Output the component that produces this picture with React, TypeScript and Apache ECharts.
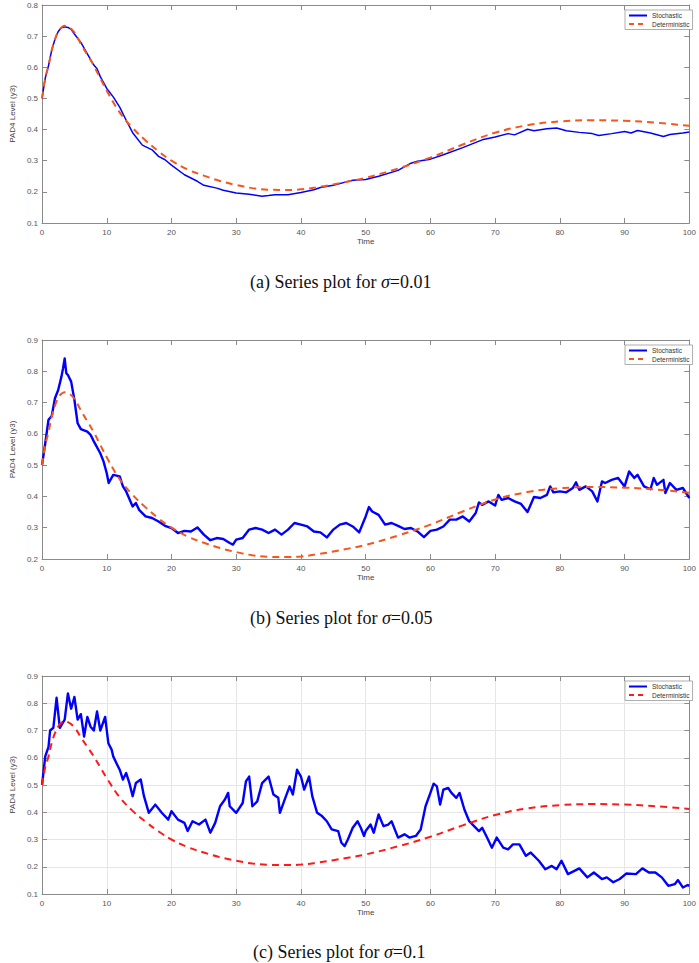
import React, { useEffect, useRef } from "react";
import * as echarts from "echarts";

// Deterministic solution (same in all three panels): [time, level]
const deterministic: number[][] = [
  [0, 0.5], [0.5, 0.565], [1, 0.605], [1.5, 0.655], [2, 0.69], [2.5, 0.715], [3, 0.728], [3.5, 0.733],
  [4, 0.731], [5, 0.712], [6, 0.675], [7, 0.64], [8, 0.605], [9, 0.565], [10, 0.525], [12, 0.455],
  [14, 0.405], [16, 0.365], [18, 0.33], [20, 0.3], [22.5, 0.272], [25, 0.252], [27.5, 0.235],
  [30, 0.222], [32.5, 0.212], [35, 0.207], [37.5, 0.206], [40, 0.208], [42.5, 0.215], [45, 0.224],
  [47.5, 0.234], [50, 0.245], [55, 0.275], [60, 0.31], [65, 0.352], [70, 0.39], [75, 0.414],
  [80, 0.426], [85, 0.43], [90, 0.428], [95, 0.422], [100, 0.412],
];

// Stochastic path, sigma = 0.01
const stochasticA: number[][] = [
  [0, 0.5], [0.5, 0.565], [1, 0.605], [1.5, 0.655], [2, 0.69], [2.5, 0.715], [3, 0.727], [3.5, 0.73],
  [4, 0.728], [4.5, 0.722], [5, 0.707], [6, 0.68], [7, 0.643], [8, 0.607], [8.5, 0.595], [9, 0.57],
  [10, 0.532], [11, 0.505], [12, 0.472], [13, 0.43], [14, 0.39], [15.5, 0.35], [17, 0.335], [18, 0.314],
  [19, 0.303], [20, 0.286], [22, 0.255], [24, 0.234], [25, 0.221], [27, 0.212], [28, 0.205], [30, 0.196],
  [32, 0.192], [34, 0.186], [35, 0.188], [36, 0.191], [38, 0.191], [40, 0.198], [42, 0.207], [43, 0.214],
  [45, 0.221], [47, 0.232], [48, 0.237], [50, 0.24], [52, 0.25], [55, 0.269], [57, 0.292], [58, 0.298],
  [60, 0.305], [62, 0.319], [65, 0.342], [68, 0.367], [70, 0.376], [72, 0.387], [73, 0.383], [75, 0.401],
  [76, 0.396], [78, 0.403], [79.5, 0.405], [81, 0.396], [83, 0.391], [85, 0.387], [86, 0.381], [88, 0.387],
  [90, 0.394], [91, 0.389], [92, 0.397], [94, 0.389], [96, 0.378], [97, 0.384], [99, 0.389], [100, 0.392],
];

// Stochastic path, sigma = 0.05
const stochasticB: number[][] = [
  [0, 0.5], [0.5, 0.57], [1, 0.645], [1.5, 0.657], [2, 0.714], [2.5, 0.74], [3, 0.783], [3.25, 0.81],
  [3.5, 0.841], [3.75, 0.794], [4, 0.788], [4.5, 0.767], [5, 0.709], [5.5, 0.634], [6, 0.615], [7, 0.607],
  [7.5, 0.597], [8, 0.576], [9, 0.538], [9.5, 0.512], [10, 0.474], [10.3, 0.443], [11, 0.469], [12, 0.464],
  [12.5, 0.432], [13, 0.416], [14, 0.368], [14.5, 0.379], [15, 0.357], [16, 0.336], [17, 0.331], [18, 0.32],
  [19, 0.306], [20, 0.299], [21, 0.283], [22, 0.29], [23, 0.288], [24, 0.301], [25, 0.278], [26, 0.26],
  [27, 0.267], [28, 0.264], [29, 0.251], [29.5, 0.246], [30, 0.262], [31, 0.267], [32, 0.294], [33, 0.299],
  [34, 0.294], [35, 0.283], [36, 0.294], [37, 0.278], [38, 0.294], [39, 0.315], [40, 0.31], [41, 0.304],
  [42, 0.288], [43, 0.285], [44, 0.269], [45, 0.294], [46, 0.31], [47, 0.315], [48, 0.304], [49, 0.285],
  [50, 0.336], [50.5, 0.366], [51, 0.352], [52, 0.341], [53, 0.31], [54, 0.315], [55, 0.306], [56, 0.296],
  [57, 0.299], [58, 0.288], [59, 0.27], [60, 0.29], [61, 0.294], [62, 0.304], [63, 0.326], [64, 0.326],
  [65, 0.336], [66, 0.32], [67, 0.347], [67.5, 0.381], [68, 0.373], [69, 0.384], [70, 0.371], [70.5, 0.405],
  [71, 0.389], [72, 0.395], [73, 0.384], [74, 0.376], [75, 0.35], [76, 0.398], [77, 0.395], [78, 0.405],
  [78.5, 0.432], [79, 0.413], [80, 0.416], [81, 0.413], [82, 0.427], [82.5, 0.445], [83, 0.421], [84, 0.432],
  [85, 0.416], [85.8, 0.384], [86.5, 0.448], [87, 0.443], [88, 0.453], [89, 0.459], [90, 0.432], [90.7, 0.48],
  [91.5, 0.459], [92, 0.469], [93, 0.432], [94, 0.423], [94.5, 0.459], [95, 0.437], [96, 0.453], [96.3, 0.411],
  [97, 0.443], [98, 0.421], [99, 0.427], [100, 0.395],
];

// Stochastic path, sigma = 0.1
const stochasticC: number[][] = [
  [0, 0.5], [0.5, 0.605], [1, 0.64], [1.25, 0.7], [1.75, 0.71], [2.25, 0.82], [2.75, 0.71], [3.5, 0.74],
  [4, 0.836], [4.5, 0.78], [5, 0.823], [5.5, 0.74], [6, 0.76], [6.5, 0.678], [7, 0.75], [7.5, 0.714],
  [8, 0.7], [8.5, 0.77], [9, 0.7], [9.75, 0.75], [10.25, 0.653], [10.75, 0.63], [11, 0.605], [11.5, 0.58],
  [12, 0.556], [12.5, 0.52], [13, 0.544], [13.5, 0.507], [14, 0.459], [14.5, 0.507], [15.25, 0.52],
  [15.75, 0.459], [16.5, 0.398], [17.5, 0.428], [18.5, 0.398], [19.5, 0.373], [20, 0.404], [21, 0.373],
  [22, 0.361], [22.5, 0.331], [23.25, 0.367], [24.25, 0.355], [25.25, 0.373], [26, 0.325], [26.75, 0.361],
  [27.5, 0.422], [28.25, 0.447], [28.75, 0.471], [29, 0.422], [30, 0.398], [31, 0.434], [31.5, 0.513],
  [32, 0.531], [32.5, 0.422], [33.25, 0.44], [34, 0.507], [35, 0.531], [35.75, 0.465], [36.5, 0.453],
  [36.75, 0.398], [37.5, 0.447], [38.25, 0.495], [38.75, 0.465], [39.4, 0.556], [40, 0.531], [40.5, 0.483],
  [41.25, 0.531], [41.75, 0.459], [42.5, 0.398], [43.25, 0.386], [44, 0.367], [44.75, 0.337], [45.75, 0.331],
  [46.25, 0.288], [46.75, 0.276], [47.25, 0.3], [48, 0.343], [48.75, 0.367], [49.25, 0.343], [49.75, 0.313],
  [50, 0.331], [50.75, 0.355], [51.25, 0.325], [52, 0.392], [52.75, 0.349], [53.5, 0.355], [54, 0.367],
  [55, 0.307], [56, 0.319], [56.75, 0.307], [57.75, 0.313], [58.5, 0.337], [59.25, 0.422], [60, 0.471],
  [60.5, 0.505], [61, 0.495], [61.5, 0.428], [62, 0.483], [62.75, 0.489], [63.25, 0.471], [64, 0.453],
  [64.5, 0.471], [65.25, 0.41], [66, 0.367], [66.75, 0.349], [67.5, 0.331], [68, 0.343], [68.75, 0.307],
  [69.5, 0.27], [70.25, 0.307], [71.25, 0.27], [72, 0.264], [72.75, 0.282], [73.75, 0.282], [74.75, 0.24],
  [75.5, 0.252], [76.75, 0.222], [77.75, 0.191], [78.75, 0.203], [79.5, 0.191], [80.25, 0.222], [81.25, 0.173],
  [82.25, 0.185], [83, 0.194], [84.25, 0.161], [85.25, 0.179], [86.5, 0.155], [87.25, 0.161], [88.25, 0.143],
  [89.25, 0.155], [90.25, 0.175], [91.75, 0.173], [92.75, 0.194], [93.75, 0.179], [94.75, 0.179],
  [95.75, 0.161], [96.75, 0.13], [97.75, 0.136], [98.25, 0.151], [99, 0.124], [99.75, 0.133], [100, 0.13],
];

const captions = ["(a) Series plot for {i|σ}=0.01", "(b) Series plot for {i|σ}=0.05", "(c) Series plot for {i|σ}=0.1"];
const yRanges = [[0.1, 0.8], [0.2, 0.9], [0.1, 0.9]];
const xLabel = "Time";
const yLabel = "PAD4 Level (y3)";
const seriesNames = ["Stochastic", "Deterministic"];

const SANS = "Liberation Sans, Arial, sans-serif";
const SERIF = "Liberation Serif, Times New Roman, serif";
const FRAME = "#8a8a8a";

export default function App() {
  const ref = useRef<HTMLDivElement>(null);
  useEffect(() => {
    if (!ref.current) return;
    const chart = echarts.init(ref.current, null, { renderer: "svg" });

    const grids = [
      { left: 24, top: 5, width: 667, height: 218 },
      { left: 24, top: 340, width: 667, height: 219 },
      { left: 24, top: 676, width: 667, height: 218 },
    ];
    const detColors = ["#f5561c", "#f5561c", "#ff1a1a"];
    const stochWidths = [1.5, 2.4, 2.4];
    const showGrid = [false, false, true];
    const captionLeft = [250, 250, 253];
    const captionTop = [273, 609, 943];

    const xAxis: any[] = [];
    const yAxis: any[] = [];
    const series: any[] = [];
    const legend: any[] = [];
    const title: any[] = [];

    const hiddenSymbol = { color: "rgba(0,0,0,0)", borderColor: "rgba(0,0,0,0)", borderWidth: 0, opacity: 0 };

    grids.forEach((g, i) => {
      const split = { show: showGrid[i], lineStyle: { color: "#e6e6e6", width: 1 } };
      xAxis.push({
        type: "value", gridIndex: i, min: 0, max: 100, interval: 10, position: "bottom",
        name: xLabel, nameLocation: "middle", nameGap: 14,
        nameTextStyle: { fontSize: 8, color: "#444", fontFamily: SANS },
        axisLine: { show: true, onZero: false, lineStyle: { color: FRAME, width: 1 } },
        axisTick: { show: true, inside: true, length: 5, lineStyle: { color: FRAME } },
        axisLabel: { fontSize: 8, color: "#555", margin: 5, fontFamily: SANS },
        splitLine: split,
      });
      xAxis.push({
        type: "value", gridIndex: i, min: 0, max: 100, interval: 10, position: "top",
        axisLine: { show: true, onZero: false, lineStyle: { color: FRAME, width: 1 } },
        axisTick: { show: true, inside: true, length: 5, lineStyle: { color: FRAME } },
        axisLabel: { show: false },
        splitLine: { show: false },
      });
      const [ymin, ymax] = yRanges[i];
      yAxis.push({
        type: "value", gridIndex: i, min: ymin, max: ymax, interval: 0.1, position: "left",
        name: yLabel, nameLocation: "middle", nameGap: 16, nameRotate: 90,
        nameTextStyle: { fontSize: 8, color: "#444", fontFamily: SANS },
        axisLine: { show: true, onZero: false, lineStyle: { color: FRAME, width: 1 } },
        axisTick: { show: true, inside: true, length: 5, lineStyle: { color: FRAME } },
        axisLabel: { fontSize: 8, color: "#555", margin: 4, fontFamily: SANS, formatter: (v: number) => v.toFixed(1) },
        splitLine: split,
      });
      yAxis.push({
        type: "value", gridIndex: i, min: ymin, max: ymax, interval: 0.1, position: "right",
        axisLine: { show: true, onZero: false, lineStyle: { color: FRAME, width: 1 } },
        axisTick: { show: true, inside: true, length: 5, lineStyle: { color: FRAME } },
        axisLabel: { show: false },
        splitLine: { show: false },
      });
      const stoch = [stochasticA, stochasticB, stochasticC][i];
      series.push({
        type: "line", name: seriesNames[0], xAxisIndex: 2 * i, yAxisIndex: 2 * i,
        data: stoch, symbol: "none", showSymbol: false, color: "#0000ff",
        lineStyle: { color: "#0000ff", width: stochWidths[i], join: "round" },
      });
      series.push({
        type: "line", name: seriesNames[1], xAxisIndex: 2 * i, yAxisIndex: 2 * i,
        data: deterministic, smooth: 0.4, symbol: "none", showSymbol: false, color: detColors[i],
        lineStyle: { color: detColors[i], width: 2, type: [7, 5] },
      });
      legend.push({
        left: 625, top: g.top + 5, orient: "vertical",
        itemWidth: 18, itemHeight: 7, itemGap: 1.5, padding: [2, 3, 2, 3],
        borderColor: "#999", borderWidth: 0.8, backgroundColor: "#fff", borderRadius: 0,
        selectedMode: false,
        itemStyle: hiddenSymbol,
        textStyle: { fontSize: 6.5, color: "#333", fontFamily: SANS },
        data: [
          { name: seriesNames[0], itemStyle: hiddenSymbol, lineStyle: { color: "#0000ff", width: 2 } },
          { name: seriesNames[1], itemStyle: hiddenSymbol, lineStyle: { color: detColors[i], width: 2, type: [5, 4] } },
        ],
      });
      title.push({
        text: captions[i], left: captionLeft[i], top: captionTop[i], padding: 0,
        textStyle: {
          fontFamily: SERIF, fontSize: 18, fontWeight: "normal", color: "#111",
          rich: { i: { fontFamily: SERIF, fontSize: 18, fontStyle: "italic", color: "#111" } },
        },
      });
    });

    chart.setOption({
      animation: false,
      backgroundColor: "#ffffff",
      title, grid: grids, xAxis, yAxis, series, legend,
    });
    return () => chart.dispose();
  }, []);
  return <div ref={ref} style={{ position: "absolute", left: 0, top: 0, width: 699, height: 963 }} />;
}
